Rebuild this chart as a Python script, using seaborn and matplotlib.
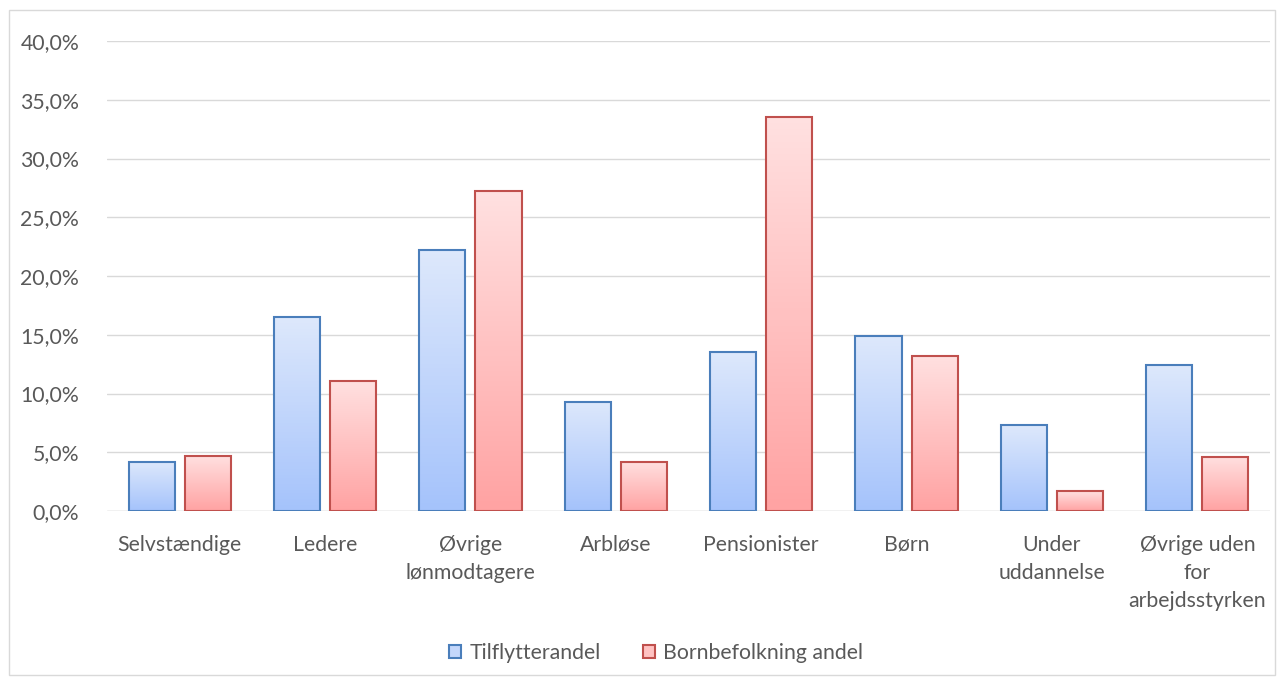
import numpy as np
import pandas as pd
import matplotlib
matplotlib.use("Agg")
import matplotlib.pyplot as plt
import seaborn as sns
from matplotlib.patches import Patch, Rectangle
from matplotlib.ticker import FuncFormatter

# data
kategorier = ["Selvstændige", "Ledere", "Øvrige\nlønmodtagere", "Arbløse", "Pensionister",
              "Børn", "Under\nuddannelse", "Øvrige uden\nfor\narbejdsstyrken"]
tilflytter = [4.2, 16.5, 22.2, 9.3, 13.5, 14.9, 7.3, 12.4]
bornbefolkning = [4.7, 11.1, 27.2, 4.2, 33.5, 13.2, 1.7, 4.6]
serier = ["Tilflytterandel", "Bornbefolkning andel"]

df = pd.DataFrame({
    "kategori": kategorier * 2,
    "andel": tilflytter + bornbefolkning,
    "serie": [serier[0]] * 8 + [serier[1]] * 8,
})

sns.set_theme(style="white")
plt.rcParams["font.family"] = ["Lato", "DejaVu Sans"]
fs = 15.3

fig = plt.figure(figsize=(12.82, 6.84), dpi=100)
ax = fig.add_axes([107 / 1282, 1 - 511 / 684, (1270 - 107) / 1282, (511 - 41) / 684])

kant = {serier[0]: "#4a7ebb", serier[1]: "#c0504d"}
top = {serier[0]: "#dde8fc", serier[1]: "#ffe0e0"}
bund = {serier[0]: "#a5c3fb", serier[1]: "#ffa3a3"}

sns.barplot(data=df, x="kategori", y="andel", hue="serie", hue_order=serier,
            palette=kant, width=0.772, ax=ax, legend=False)

# gradient fill for each bar
for i, p in enumerate(ax.patches):
    s = serier[i // 8]
    cx = p.get_x() + p.get_width() / 2
    w = 0.317
    p.set_x(cx - w / 2)
    p.set_width(w)
    p.set_facecolor("none")
    p.set_edgecolor(kant[s])
    p.set_linewidth(1.5)
    p.set_zorder(3)
    h = p.get_height()
    c1 = np.array(matplotlib.colors.to_rgb(top[s]))
    c2 = np.array(matplotlib.colors.to_rgb(bund[s]))
    t = np.linspace(0, 1, 64)[:, None]
    img = (c1 * (1 - t) + c2 * t)[:, None, :]
    ax.imshow(img, extent=(cx - w / 2, cx + w / 2, 0, h), aspect="auto",
              origin="upper", zorder=2)

ax.set_xlim(-0.5, 7.5)
ax.set_ylim(0, 40)
ax.set_yticks(np.arange(0, 41, 5))
ax.yaxis.set_major_formatter(FuncFormatter(lambda v, _: f"{v:.1f}%".replace(".", ",")))
ax.grid(axis="y", color="#d9d9d9", linewidth=1)
ax.set_axisbelow(True)
for sp in ax.spines.values():
    sp.set_visible(False)
ax.axhline(0, color="#d9d9d9", linewidth=1, zorder=1)
ax.set_xlabel("")
ax.set_ylabel("")
ax.tick_params(axis="both", colors="#595959", labelsize=fs, length=0)
ax.tick_params(axis="y", pad=20)
ax.tick_params(axis="x", pad=17)
for lbl in ax.get_xticklabels():
    lbl.set_linespacing(1.5)

handles = [Patch(facecolor="#c4d7fb", edgecolor=kant[serier[0]], linewidth=1.5),
           Patch(facecolor="#ffc2c2", edgecolor=kant[serier[1]], linewidth=1.5)]
fig.legend(handles, serier, loc="center", bbox_to_anchor=(656 / 1282, 1 - 653 / 684),
           ncol=2, frameon=False, fontsize=fs, labelcolor="#595959",
           handlelength=0.55, handleheight=0.55, handletextpad=0.4, columnspacing=2.0)

fig.patches.append(Rectangle((9 / 1282, 1 - 675 / 684), (1275 - 9) / 1282, (675 - 10) / 684,
                             transform=fig.transFigure, fill=False,
                             edgecolor="#d9d9d9", linewidth=1))

fig.savefig("out.png", dpi=100, facecolor="white")
